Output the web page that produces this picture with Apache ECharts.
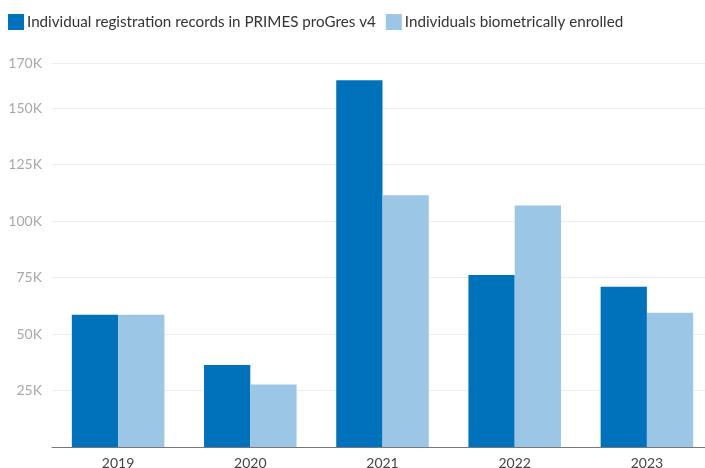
<!DOCTYPE html>
<html>
<head>
<meta charset="utf-8">
<script src="https://cdn.jsdelivr.net/npm/echarts@6/dist/echarts.min.js"></script>
<style>
  html, body { margin: 0; padding: 0; background: #fff; }
  #chart { width: 705px; height: 468px; }
</style>
</head>
<body>
<div id="chart"></div>
<script>
var years = ['2019', '2020', '2021', '2022', '2023'];
var registered = [58500, 36300, 162400, 76100, 70900];
var biometric = [58500, 27700, 111400, 106900, 59400];

var myChart = echarts.init(document.getElementById('chart'));

var option = {
  backgroundColor: '#fff',
  textStyle: { fontFamily: 'Lato' },
  legend: {
    left: 3,
    top: 9,
    icon: 'rect',
    itemWidth: 16,
    itemHeight: 16,
    itemGap: 10,
    textStyle: { fontSize: 15.2, color: '#333', padding: [0, 0, 0, -2] },
    data: ['Individual registration records in PRIMES proGres v4', 'Individuals biometrically enrolled']
  },
  grid: {
    left: 52,
    width: 661,
    top: 63,
    bottom: 21,
    outerBoundsMode: 'none',
    containLabel: false
  },
  xAxis: {
    type: 'category',
    data: years,
    axisTick: { show: false },
    axisLine: { lineStyle: { color: '#777', width: 1 } },
    axisLabel: { color: '#444', fontSize: 14, margin: 9 }
  },
  yAxis: {
    type: 'value',
    min: 0,
    max: 170000,
    interval: 25000,
    axisLine: { show: false },
    axisTick: { show: false },
    splitLine: { lineStyle: { color: '#eeeeee' } },
    axisLabel: {
      color: '#a8a8a8',
      fontSize: 14,
      margin: 10,
      formatter: function (v) {
        return v === 0 ? '' : (v / 1000) + 'K';
      }
    }
  },
  series: [
    {
      name: 'Individual registration records in PRIMES proGres v4',
      type: 'bar',
      data: registered,
      barGap: 0,
      barCategoryGap: '30%',
      itemStyle: { color: '#0072bc' }
    },
    {
      name: 'Individuals biometrically enrolled',
      type: 'bar',
      data: biometric,
      itemStyle: { color: '#9cc6e5' }
    }
  ]
};

myChart.setOption(option);
</script>
</body>
</html>
